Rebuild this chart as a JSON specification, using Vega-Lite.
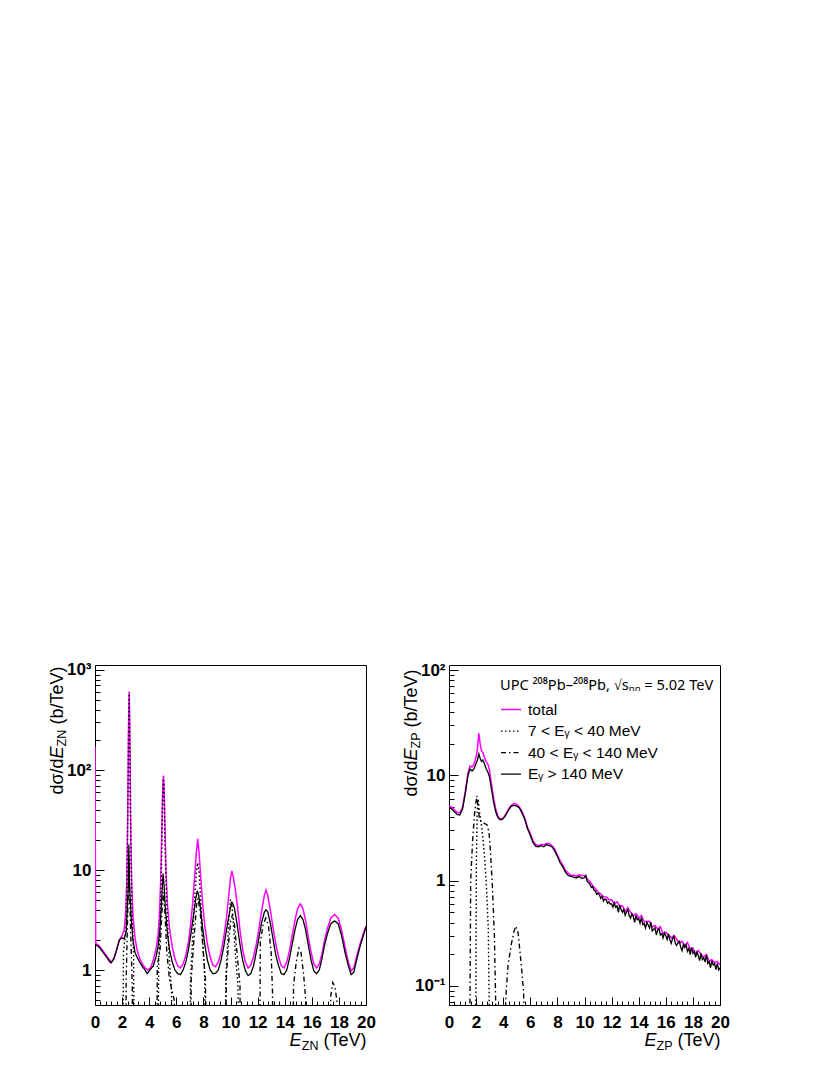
{
  "$schema": "https://vega.github.io/schema/vega-lite/v6.json",
  "background": "white",
  "padding": {"left": 47, "top": 660, "right": 5, "bottom": 5},
  "spacing": 25,
  "config": {
    "view": {"stroke": "black", "strokeWidth": 1},
    "font": "Liberation Sans",
    "axis": {
      "grid": false, "domain": false, "tickColor": "black", "tickWidth": 1,
      "labelFont": "Liberation Sans", "labelFontWeight": "bold", "labelFontSize": 17, "labelColor": "black",
      "labelFlush": false, "labelOverlap": false, "labelBound": false,
      "titleFont": "Liberation Sans", "titleFontWeight": "normal", "titleFontSize": 18, "titleColor": "black",
      "titleBaseline": "alphabetic"
    },
    "line": {"clip": true}
  },
  "resolve": {
    "scale": {"color": "independent", "strokeDash": "independent", "strokeWidth": "independent"},
    "legend": {"color": "independent", "strokeDash": "independent", "strokeWidth": "independent"}
  },
  "datasets": {
    "zn": [
      {"E":0,"v":170,"s":"t"},{"E":0.05,"v":1.85,"s":"t"},{"E":0.3,"v":1.75,"s":"t"},{"E":0.6,"v":1.55,"s":"t"},{"E":0.9,"v":1.36,"s":"t"},{"E":1.2,"v":1.2,"s":"t"},{"E":1.4,"v":1.3,"s":"t"},{"E":1.6,"v":1.6,"s":"t"},{"E":1.8,"v":2.0,"s":"t"},{"E":2.0,"v":2.2,"s":"t"},{"E":2.15,"v":2.5,"s":"t"},{"E":2.25,"v":3.5,"s":"t"},{"E":2.35,"v":8,"s":"t"},{"E":2.42,"v":40,"s":"t"},{"E":2.47,"v":250,"s":"t"},{"E":2.52,"v":610,"s":"t"},{"E":2.57,"v":250,"s":"t"},{"E":2.62,"v":40,"s":"t"},{"E":2.7,"v":8,"s":"t"},{"E":2.8,"v":3.5,"s":"t"},{"E":2.95,"v":2.1,"s":"t"},{"E":3.1,"v":1.6,"s":"t"},{"E":3.3,"v":1.3,"s":"t"},{"E":3.5,"v":1.15,"s":"t"},{"E":3.7,"v":1.05,"s":"t"},{"E":3.9,"v":1.0,"s":"t"},{"E":4.1,"v":1.05,"s":"t"},{"E":4.3,"v":1.25,"s":"t"},{"E":4.5,"v":1.6,"s":"t"},{"E":4.65,"v":2.2,"s":"t"},{"E":4.75,"v":3.5,"s":"t"},{"E":4.85,"v":8,"s":"t"},{"E":4.93,"v":25,"s":"t"},{"E":5.0,"v":65,"s":"t"},{"E":5.05,"v":88,"s":"t"},{"E":5.1,"v":65,"s":"t"},{"E":5.17,"v":25,"s":"t"},{"E":5.25,"v":9,"s":"t"},{"E":5.35,"v":4.5,"s":"t"},{"E":5.5,"v":2.6,"s":"t"},{"E":5.7,"v":1.7,"s":"t"},{"E":5.9,"v":1.3,"s":"t"},{"E":6.1,"v":1.1,"s":"t"},{"E":6.3,"v":1.05,"s":"t"},{"E":6.5,"v":1.15,"s":"t"},{"E":6.7,"v":1.4,"s":"t"},{"E":6.9,"v":1.9,"s":"t"},{"E":7.05,"v":2.8,"s":"t"},{"E":7.2,"v":4.5,"s":"t"},{"E":7.35,"v":8.5,"s":"t"},{"E":7.48,"v":15,"s":"t"},{"E":7.58,"v":20.5,"s":"t"},{"E":7.68,"v":15,"s":"t"},{"E":7.8,"v":8.5,"s":"t"},{"E":7.95,"v":4.5,"s":"t"},{"E":8.1,"v":2.8,"s":"t"},{"E":8.3,"v":1.8,"s":"t"},{"E":8.5,"v":1.35,"s":"t"},{"E":8.7,"v":1.12,"s":"t"},{"E":8.9,"v":1.08,"s":"t"},{"E":9.1,"v":1.2,"s":"t"},{"E":9.3,"v":1.5,"s":"t"},{"E":9.5,"v":2.1,"s":"t"},{"E":9.7,"v":3.3,"s":"t"},{"E":9.85,"v":5.2,"s":"t"},{"E":10.0,"v":8.3,"s":"t"},{"E":10.1,"v":9.8,"s":"t"},{"E":10.2,"v":8.6,"s":"t"},{"E":10.35,"v":6.5,"s":"t"},{"E":10.5,"v":4.5,"s":"t"},{"E":10.7,"v":2.5,"s":"t"},{"E":10.9,"v":1.6,"s":"t"},{"E":11.1,"v":1.2,"s":"t"},{"E":11.3,"v":1.05,"s":"t"},{"E":11.5,"v":1.12,"s":"t"},{"E":11.7,"v":1.35,"s":"t"},{"E":11.9,"v":1.8,"s":"t"},{"E":12.1,"v":2.6,"s":"t"},{"E":12.3,"v":3.9,"s":"t"},{"E":12.5,"v":5.6,"s":"t"},{"E":12.62,"v":6.3,"s":"t"},{"E":12.75,"v":5.6,"s":"t"},{"E":12.95,"v":3.9,"s":"t"},{"E":13.15,"v":2.6,"s":"t"},{"E":13.35,"v":1.8,"s":"t"},{"E":13.55,"v":1.35,"s":"t"},{"E":13.75,"v":1.1,"s":"t"},{"E":13.95,"v":1.05,"s":"t"},{"E":14.15,"v":1.2,"s":"t"},{"E":14.35,"v":1.55,"s":"t"},{"E":14.55,"v":2.2,"s":"t"},{"E":14.75,"v":3.1,"s":"t"},{"E":14.95,"v":4.1,"s":"t"},{"E":15.15,"v":4.6,"s":"t"},{"E":15.35,"v":4.1,"s":"t"},{"E":15.55,"v":3.1,"s":"t"},{"E":15.75,"v":2.1,"s":"t"},{"E":15.95,"v":1.5,"s":"t"},{"E":16.15,"v":1.15,"s":"t"},{"E":16.35,"v":1.05,"s":"t"},{"E":16.55,"v":1.15,"s":"t"},{"E":16.75,"v":1.45,"s":"t"},{"E":16.95,"v":2.0,"s":"t"},{"E":17.15,"v":2.6,"s":"t"},{"E":17.4,"v":3.3,"s":"t"},{"E":17.68,"v":3.6,"s":"t"},{"E":17.95,"v":3.3,"s":"t"},{"E":18.2,"v":2.5,"s":"t"},{"E":18.45,"v":1.7,"s":"t"},{"E":18.7,"v":1.2,"s":"t"},{"E":18.9,"v":0.98,"s":"t"},{"E":19.1,"v":1.05,"s":"t"},{"E":19.3,"v":1.35,"s":"t"},{"E":19.55,"v":1.8,"s":"t"},{"E":19.8,"v":2.3,"s":"t"},{"E":20.0,"v":2.75,"s":"t"},

      {"E":2.05,"v":0.05,"s":"a"},{"E":2.1,"v":1.5,"s":"a"},{"E":2.2,"v":2.0,"s":"a"},{"E":2.3,"v":3,"s":"a"},{"E":2.4,"v":20,"s":"a"},{"E":2.47,"v":200,"s":"a"},{"E":2.52,"v":580,"s":"a"},{"E":2.57,"v":200,"s":"a"},{"E":2.65,"v":15,"s":"a"},{"E":2.75,"v":3,"s":"a"},{"E":2.85,"v":1.5,"s":"a"},{"E":2.9,"v":0.05,"s":"a"},
      {"E":4.65,"v":0.05,"s":"a"},{"E":4.7,"v":1.2,"s":"a"},{"E":4.8,"v":2.5,"s":"a"},{"E":4.9,"v":10,"s":"a"},{"E":5.0,"v":60,"s":"a"},{"E":5.05,"v":82,"s":"a"},{"E":5.1,"v":60,"s":"a"},{"E":5.2,"v":12,"s":"a"},{"E":5.35,"v":3,"s":"a"},{"E":5.5,"v":1.2,"s":"a"},{"E":5.65,"v":0.6,"s":"a"},{"E":5.7,"v":0.05,"s":"a"},
      {"E":7.0,"v":0.05,"s":"a"},{"E":7.05,"v":0.8,"s":"a"},{"E":7.2,"v":2,"s":"a"},{"E":7.35,"v":5,"s":"a"},{"E":7.48,"v":9.5,"s":"a"},{"E":7.58,"v":11.8,"s":"a"},{"E":7.68,"v":9.5,"s":"a"},{"E":7.8,"v":5,"s":"a"},{"E":7.95,"v":2,"s":"a"},{"E":8.1,"v":0.8,"s":"a"},{"E":8.15,"v":0.05,"s":"a"},
      {"E":9.6,"v":0.05,"s":"a"},{"E":9.65,"v":0.8,"s":"a"},{"E":9.8,"v":2,"s":"a"},{"E":9.9,"v":3.5,"s":"a"},{"E":10.0,"v":5.1,"s":"a"},{"E":10.1,"v":4.5,"s":"a"},{"E":10.25,"v":2.5,"s":"a"},{"E":10.4,"v":1.2,"s":"a"},{"E":10.55,"v":0.7,"s":"a"},{"E":10.65,"v":0.05,"s":"a"},

      {"E":2.25,"v":0.05,"s":"b"},{"E":2.3,"v":0.8,"s":"b"},{"E":2.4,"v":3,"s":"b"},{"E":2.5,"v":12,"s":"b"},{"E":2.55,"v":6,"s":"b"},{"E":2.65,"v":2,"s":"b"},{"E":2.75,"v":0.7,"s":"b"},{"E":2.8,"v":0.05,"s":"b"},
      {"E":4.55,"v":0.05,"s":"b"},{"E":4.6,"v":1.1,"s":"b"},{"E":4.8,"v":1.6,"s":"b"},{"E":4.95,"v":4,"s":"b"},{"E":5.05,"v":6,"s":"b"},{"E":5.15,"v":4,"s":"b"},{"E":5.3,"v":1.5,"s":"b"},{"E":5.5,"v":0.8,"s":"b"},{"E":5.85,"v":0.5,"s":"b"},{"E":5.9,"v":0.05,"s":"b"},
      {"E":7.05,"v":0.05,"s":"b"},{"E":7.1,"v":0.8,"s":"b"},{"E":7.3,"v":2,"s":"b"},{"E":7.5,"v":4.5,"s":"b"},{"E":7.6,"v":5.2,"s":"b"},{"E":7.75,"v":4,"s":"b"},{"E":7.95,"v":1.8,"s":"b"},{"E":8.15,"v":0.8,"s":"b"},{"E":8.25,"v":0.05,"s":"b"},
      {"E":9.6,"v":0.05,"s":"b"},{"E":9.7,"v":0.9,"s":"b"},{"E":9.85,"v":1.8,"s":"b"},{"E":10.0,"v":3,"s":"b"},{"E":10.15,"v":3.6,"s":"b"},{"E":10.3,"v":2.8,"s":"b"},{"E":10.5,"v":1.4,"s":"b"},{"E":10.7,"v":0.7,"s":"b"},{"E":10.75,"v":0.05,"s":"b"},
      {"E":12.15,"v":0.05,"s":"b"},{"E":12.2,"v":1.9,"s":"b"},{"E":12.4,"v":2.8,"s":"b"},{"E":12.6,"v":3.3,"s":"b"},{"E":12.8,"v":2.8,"s":"b"},{"E":13.0,"v":1.5,"s":"b"},{"E":13.1,"v":0.6,"s":"b"},{"E":13.15,"v":0.05,"s":"b"},
      {"E":14.6,"v":0.05,"s":"b"},{"E":14.65,"v":0.7,"s":"b"},{"E":14.85,"v":1.2,"s":"b"},{"E":15.05,"v":1.65,"s":"b"},{"E":15.2,"v":1.5,"s":"b"},{"E":15.4,"v":0.9,"s":"b"},{"E":15.55,"v":0.5,"s":"b"},{"E":15.6,"v":0.05,"s":"b"},
      {"E":17.3,"v":0.05,"s":"b"},{"E":17.4,"v":0.55,"s":"b"},{"E":17.55,"v":0.75,"s":"b"},{"E":17.7,"v":0.68,"s":"b"},{"E":17.85,"v":0.5,"s":"b"},{"E":17.95,"v":0.05,"s":"b"},

      {"E":0,"v":1.8,"s":"c"},{"E":0.3,"v":1.7,"s":"c"},{"E":0.6,"v":1.5,"s":"c"},{"E":0.9,"v":1.32,"s":"c"},{"E":1.1,"v":1.2,"s":"c"},{"E":1.2,"v":1.18,"s":"c"},{"E":1.4,"v":1.3,"s":"c"},{"E":1.6,"v":1.6,"s":"c"},{"E":1.8,"v":2.0,"s":"c"},{"E":2.0,"v":2.1,"s":"c"},{"E":2.15,"v":2.05,"s":"c"},{"E":2.3,"v":2.4,"s":"c"},{"E":2.4,"v":4.5,"s":"c"},{"E":2.46,"v":7,"s":"c"},{"E":2.5,"v":18,"s":"c"},{"E":2.54,"v":8,"s":"c"},{"E":2.58,"v":5.8,"s":"c"},{"E":2.68,"v":3.2,"s":"c"},{"E":2.8,"v":2.0,"s":"c"},{"E":2.95,"v":1.5,"s":"c"},{"E":3.1,"v":1.35,"s":"c"},{"E":3.3,"v":1.2,"s":"c"},{"E":3.5,"v":1.08,"s":"c"},{"E":3.7,"v":1.0,"s":"c"},{"E":3.85,"v":0.92,"s":"c"},{"E":4.05,"v":1.0,"s":"c"},{"E":4.3,"v":1.1,"s":"c"},{"E":4.5,"v":1.35,"s":"c"},{"E":4.65,"v":1.7,"s":"c"},{"E":4.8,"v":2.6,"s":"c"},{"E":4.92,"v":5,"s":"c"},{"E":5.02,"v":9.2,"s":"c"},{"E":5.1,"v":7,"s":"c"},{"E":5.2,"v":4,"s":"c"},{"E":5.35,"v":2.3,"s":"c"},{"E":5.5,"v":1.6,"s":"c"},{"E":5.7,"v":1.2,"s":"c"},{"E":5.9,"v":1.0,"s":"c"},{"E":6.1,"v":0.92,"s":"c"},{"E":6.3,"v":0.9,"s":"c"},{"E":6.5,"v":1.0,"s":"c"},{"E":6.7,"v":1.2,"s":"c"},{"E":6.9,"v":1.6,"s":"c"},{"E":7.1,"v":2.4,"s":"c"},{"E":7.3,"v":3.8,"s":"c"},{"E":7.45,"v":5.3,"s":"c"},{"E":7.55,"v":6.2,"s":"c"},{"E":7.65,"v":5.6,"s":"c"},{"E":7.8,"v":4.0,"s":"c"},{"E":7.95,"v":2.6,"s":"c"},{"E":8.1,"v":1.8,"s":"c"},{"E":8.3,"v":1.25,"s":"c"},{"E":8.5,"v":1.0,"s":"c"},{"E":8.7,"v":0.92,"s":"c"},{"E":8.9,"v":0.93,"s":"c"},{"E":9.1,"v":1.0,"s":"c"},{"E":9.3,"v":1.25,"s":"c"},{"E":9.5,"v":1.7,"s":"c"},{"E":9.7,"v":2.5,"s":"c"},{"E":9.9,"v":3.6,"s":"c"},{"E":10.05,"v":4.5,"s":"c"},{"E":10.15,"v":4.7,"s":"c"},{"E":10.3,"v":4.1,"s":"c"},{"E":10.5,"v":2.8,"s":"c"},{"E":10.7,"v":1.8,"s":"c"},{"E":10.9,"v":1.25,"s":"c"},{"E":11.1,"v":0.98,"s":"c"},{"E":11.3,"v":0.88,"s":"c"},{"E":11.5,"v":0.92,"s":"c"},{"E":11.7,"v":1.1,"s":"c"},{"E":11.9,"v":1.5,"s":"c"},{"E":12.1,"v":2.1,"s":"c"},{"E":12.3,"v":3.0,"s":"c"},{"E":12.5,"v":3.8,"s":"c"},{"E":12.62,"v":4.0,"s":"c"},{"E":12.75,"v":3.8,"s":"c"},{"E":12.95,"v":2.9,"s":"c"},{"E":13.15,"v":2.0,"s":"c"},{"E":13.35,"v":1.4,"s":"c"},{"E":13.55,"v":1.1,"s":"c"},{"E":13.75,"v":0.92,"s":"c"},{"E":13.95,"v":0.9,"s":"c"},{"E":14.15,"v":1.0,"s":"c"},{"E":14.35,"v":1.3,"s":"c"},{"E":14.55,"v":1.8,"s":"c"},{"E":14.75,"v":2.5,"s":"c"},{"E":14.95,"v":3.2,"s":"c"},{"E":15.15,"v":3.5,"s":"c"},{"E":15.35,"v":3.2,"s":"c"},{"E":15.55,"v":2.5,"s":"c"},{"E":15.75,"v":1.75,"s":"c"},{"E":15.95,"v":1.25,"s":"c"},{"E":16.15,"v":0.98,"s":"c"},{"E":16.35,"v":0.92,"s":"c"},{"E":16.55,"v":1.0,"s":"c"},{"E":16.75,"v":1.3,"s":"c"},{"E":16.95,"v":1.8,"s":"c"},{"E":17.15,"v":2.3,"s":"c"},{"E":17.4,"v":2.9,"s":"c"},{"E":17.68,"v":3.1,"s":"c"},{"E":17.95,"v":2.9,"s":"c"},{"E":18.2,"v":2.2,"s":"c"},{"E":18.45,"v":1.5,"s":"c"},{"E":18.7,"v":1.1,"s":"c"},{"E":18.9,"v":0.9,"s":"c"},{"E":19.1,"v":0.95,"s":"c"},{"E":19.3,"v":1.25,"s":"c"},{"E":19.55,"v":1.7,"s":"c"},{"E":19.8,"v":2.2,"s":"c"},{"E":20.0,"v":2.7,"s":"c"}
    ],
    "zp": [
      {"E":0,"v":5.1,"s":"t"},{"E":0.2,"v":5.0,"s":"t"},{"E":0.4,"v":4.7,"s":"t"},{"E":0.6,"v":4.45,"s":"t"},{"E":0.8,"v":4.4,"s":"t"},{"E":1.0,"v":5.0,"s":"t"},{"E":1.2,"v":7.0,"s":"t"},{"E":1.4,"v":10.5,"s":"t"},{"E":1.55,"v":12.3,"s":"t"},{"E":1.7,"v":12,"s":"t"},{"E":1.85,"v":12.8,"s":"t"},{"E":2.0,"v":15,"s":"t"},{"E":2.1,"v":18,"s":"t"},{"E":2.2,"v":25,"s":"t"},{"E":2.3,"v":20,"s":"t"},{"E":2.4,"v":17,"s":"t"},{"E":2.5,"v":16.5,"s":"t"},{"E":2.6,"v":15,"s":"t"},{"E":2.75,"v":13.5,"s":"t"},{"E":2.9,"v":12.5,"s":"t"},{"E":3.0,"v":11,"s":"t"},{"E":3.15,"v":8,"s":"t"},{"E":3.3,"v":6,"s":"t"},{"E":3.45,"v":4.8,"s":"t"},{"E":3.6,"v":4.1,"s":"t"},{"E":3.75,"v":3.9,"s":"t"},{"E":3.9,"v":3.85,"s":"t"},{"E":4.05,"v":4.0,"s":"t"},{"E":4.2,"v":4.3,"s":"t"},{"E":4.4,"v":4.8,"s":"t"},{"E":4.6,"v":5.2,"s":"t"},{"E":4.8,"v":5.4,"s":"t"},{"E":5.0,"v":5.3,"s":"t"},{"E":5.2,"v":5.0,"s":"t"},{"E":5.4,"v":4.5,"s":"t"},{"E":5.6,"v":3.9,"s":"t"},{"E":5.8,"v":3.2,"s":"t"},{"E":6.0,"v":2.8,"s":"t"},{"E":6.2,"v":2.4,"s":"t"},{"E":6.4,"v":2.2,"s":"t"},{"E":6.6,"v":2.15,"s":"t"},{"E":6.8,"v":2.2,"s":"t"},{"E":7.0,"v":2.2,"s":"t"},{"E":7.2,"v":2.25,"s":"t"},{"E":7.4,"v":2.25,"s":"t"},{"E":7.6,"v":2.15,"s":"t"},{"E":7.8,"v":2.0,"s":"t"},{"E":8.0,"v":1.75,"s":"t"},{"E":8.2,"v":1.55,"s":"t"},{"E":8.4,"v":1.4,"s":"t"},{"E":8.6,"v":1.25,"s":"t"},{"E":8.8,"v":1.18,"s":"t"},{"E":9.0,"v":1.12,"s":"t"},{"E":9.2,"v":1.13,"s":"t"},{"E":9.4,"v":1.1,"s":"t"},{"E":9.6,"v":1.14,"s":"t"},{"E":9.8,"v":1.12,"s":"t"},
      {"E":10.0,"v":1.12,"s":"t"},{"E":10.2,"v":1.04,"s":"t"},{"E":10.4,"v":0.98,"s":"t"},{"E":10.6,"v":0.9,"s":"t"},{"E":10.8,"v":0.84,"s":"t"},{"E":11.0,"v":0.78,"s":"t"},{"E":11.2,"v":0.75,"s":"t"},{"E":11.4,"v":0.7,"s":"t"},{"E":11.6,"v":0.7,"s":"t"},{"E":11.8,"v":0.66,"s":"t"},{"E":12.0,"v":0.658,"s":"t"},{"E":12.2,"v":0.603,"s":"t"},{"E":12.4,"v":0.631,"s":"t"},{"E":12.6,"v":0.574,"s":"t"},{"E":12.8,"v":0.576,"s":"t"},{"E":13.0,"v":0.513,"s":"t"},{"E":13.2,"v":0.552,"s":"t"},{"E":13.4,"v":0.503,"s":"t"},{"E":13.6,"v":0.466,"s":"t"},{"E":13.8,"v":0.487,"s":"t"},{"E":14.0,"v":0.443,"s":"t"},{"E":14.2,"v":0.467,"s":"t"},{"E":14.4,"v":0.408,"s":"t"},{"E":14.6,"v":0.41,"s":"t"},{"E":14.8,"v":0.412,"s":"t"},{"E":15.0,"v":0.363,"s":"t"},{"E":15.2,"v":0.376,"s":"t"},{"E":15.4,"v":0.348,"s":"t"},{"E":15.6,"v":0.367,"s":"t"},{"E":15.8,"v":0.312,"s":"t"},{"E":16.0,"v":0.323,"s":"t"},{"E":16.2,"v":0.306,"s":"t"},{"E":16.4,"v":0.286,"s":"t"},{"E":16.6,"v":0.302,"s":"t"},{"E":16.8,"v":0.278,"s":"t"},{"E":17.0,"v":0.254,"s":"t"},{"E":17.2,"v":0.266,"s":"t"},{"E":17.4,"v":0.242,"s":"t"},{"E":17.6,"v":0.259,"s":"t"},{"E":17.8,"v":0.223,"s":"t"},{"E":18.0,"v":0.229,"s":"t"},{"E":18.2,"v":0.203,"s":"t"},{"E":18.4,"v":0.217,"s":"t"},{"E":18.6,"v":0.2,"s":"t"},{"E":18.8,"v":0.189,"s":"t"},{"E":19.0,"v":0.199,"s":"t"},{"E":19.2,"v":0.172,"s":"t"},{"E":19.4,"v":0.178,"s":"t"},{"E":19.6,"v":0.167,"s":"t"},{"E":19.8,"v":0.171,"s":"t"},{"E":20.0,"v":0.159,"s":"t"},

      {"E":1.97,"v":0.03,"s":"a"},{"E":2.02,"v":1.5,"s":"a"},{"E":2.08,"v":4.5,"s":"a"},{"E":2.15,"v":6.0,"s":"a"},{"E":2.25,"v":4.5,"s":"a"},{"E":2.39,"v":3.4,"s":"a"},{"E":2.52,"v":2.4,"s":"a"},{"E":2.64,"v":1.6,"s":"a"},{"E":2.76,"v":0.9,"s":"a"},{"E":2.9,"v":0.35,"s":"a"},{"E":3.0,"v":0.03,"s":"a"},

      {"E":1.53,"v":0.03,"s":"b"},{"E":1.6,"v":1.0,"s":"b"},{"E":1.75,"v":2.5,"s":"b"},{"E":1.9,"v":4.5,"s":"b"},{"E":2.05,"v":6.4,"s":"b"},{"E":2.15,"v":5.0,"s":"b"},{"E":2.25,"v":3.8,"s":"b"},{"E":2.4,"v":3.6,"s":"b"},{"E":2.6,"v":3.5,"s":"b"},{"E":2.8,"v":3.4,"s":"b"},{"E":2.95,"v":2.9,"s":"b"},{"E":3.05,"v":2.0,"s":"b"},{"E":3.2,"v":0.9,"s":"b"},{"E":3.35,"v":0.3,"s":"b"},{"E":3.5,"v":0.03,"s":"b"},
      {"E":4.1,"v":0.03,"s":"b"},{"E":4.2,"v":0.08,"s":"b"},{"E":4.36,"v":0.158,"s":"b"},{"E":4.6,"v":0.25,"s":"b"},{"E":4.8,"v":0.33,"s":"b"},{"E":4.93,"v":0.37,"s":"b"},{"E":5.1,"v":0.32,"s":"b"},{"E":5.35,"v":0.15,"s":"b"},{"E":5.5,"v":0.09,"s":"b"},{"E":5.6,"v":0.03,"s":"b"},

      {"E":0,"v":4.9,"s":"c"},{"E":0.2,"v":4.8,"s":"c"},{"E":0.4,"v":4.5,"s":"c"},{"E":0.6,"v":4.25,"s":"c"},{"E":0.8,"v":4.2,"s":"c"},{"E":1.0,"v":4.8,"s":"c"},{"E":1.2,"v":6.7,"s":"c"},{"E":1.4,"v":10,"s":"c"},{"E":1.55,"v":11.5,"s":"c"},{"E":1.7,"v":11,"s":"c"},{"E":1.85,"v":11.6,"s":"c"},{"E":2.0,"v":13,"s":"c"},{"E":2.1,"v":14,"s":"c"},{"E":2.2,"v":16,"s":"c"},{"E":2.3,"v":14.5,"s":"c"},{"E":2.4,"v":13.5,"s":"c"},{"E":2.5,"v":14,"s":"c"},{"E":2.6,"v":13,"s":"c"},{"E":2.75,"v":11.5,"s":"c"},{"E":2.9,"v":10.5,"s":"c"},{"E":3.0,"v":9.5,"s":"c"},{"E":3.15,"v":7.2,"s":"c"},{"E":3.3,"v":5.5,"s":"c"},{"E":3.45,"v":4.5,"s":"c"},{"E":3.6,"v":4.0,"s":"c"},{"E":3.75,"v":3.8,"s":"c"},{"E":3.9,"v":3.8,"s":"c"},{"E":4.05,"v":3.95,"s":"c"},{"E":4.2,"v":4.2,"s":"c"},{"E":4.4,"v":4.7,"s":"c"},{"E":4.6,"v":5.1,"s":"c"},{"E":4.8,"v":5.2,"s":"c"},{"E":5.0,"v":5.1,"s":"c"},{"E":5.2,"v":4.9,"s":"c"},{"E":5.4,"v":4.35,"s":"c"},{"E":5.6,"v":3.8,"s":"c"},{"E":5.8,"v":3.1,"s":"c"},{"E":6.0,"v":2.7,"s":"c"},{"E":6.2,"v":2.3,"s":"c"},{"E":6.4,"v":2.12,"s":"c"},{"E":6.6,"v":2.1,"s":"c"},{"E":6.8,"v":2.15,"s":"c"},{"E":7.0,"v":2.1,"s":"c"},{"E":7.2,"v":2.2,"s":"c"},{"E":7.4,"v":2.15,"s":"c"},{"E":7.6,"v":2.1,"s":"c"},{"E":7.8,"v":1.92,"s":"c"},{"E":8.0,"v":1.7,"s":"c"},{"E":8.2,"v":1.48,"s":"c"},{"E":8.4,"v":1.35,"s":"c"},{"E":8.6,"v":1.2,"s":"c"},{"E":8.8,"v":1.12,"s":"c"},{"E":9.0,"v":1.1,"s":"c"},{"E":9.2,"v":1.08,"s":"c"},{"E":9.4,"v":1.06,"s":"c"},{"E":9.6,"v":1.1,"s":"c"},{"E":9.8,"v":1.05,"s":"c"},
      {"E":10.0,"v":1.07,"s":"c"},{"E":10.1,"v":1.12,"s":"c"},{"E":10.2,"v":0.98,"s":"c"},{"E":10.3,"v":0.96,"s":"c"},{"E":10.4,"v":0.93,"s":"c"},{"E":10.5,"v":0.86,"s":"c"},{"E":10.6,"v":0.88,"s":"c"},{"E":10.7,"v":0.81,"s":"c"},{"E":10.8,"v":0.8,"s":"c"},{"E":10.9,"v":0.74,"s":"c"},{"E":11.0,"v":0.76,"s":"c"},{"E":11.1,"v":0.73,"s":"c"},{"E":11.2,"v":0.68,"s":"c"},{"E":11.3,"v":0.71,"s":"c"},{"E":11.4,"v":0.64,"s":"c"},{"E":11.5,"v":0.67,"s":"c"},{"E":11.6,"v":0.66,"s":"c"},{"E":11.7,"v":0.61,"s":"c"},{"E":11.8,"v":0.63,"s":"c"},{"E":11.9,"v":0.6,"s":"c"},
      {"E":12.0,"v":0.601,"s":"c"},{"E":12.1,"v":0.561,"s":"c"},{"E":12.2,"v":0.615,"s":"c"},{"E":12.3,"v":0.559,"s":"c"},{"E":12.4,"v":0.577,"s":"c"},{"E":12.5,"v":0.501,"s":"c"},{"E":12.6,"v":0.584,"s":"c"},{"E":12.7,"v":0.531,"s":"c"},{"E":12.8,"v":0.501,"s":"c"},{"E":12.9,"v":0.534,"s":"c"},{"E":13.0,"v":0.469,"s":"c"},{"E":13.1,"v":0.505,"s":"c"},{"E":13.2,"v":0.53,"s":"c"},{"E":13.3,"v":0.464,"s":"c"},{"E":13.4,"v":0.441,"s":"c"},{"E":13.5,"v":0.484,"s":"c"},{"E":13.6,"v":0.458,"s":"c"},{"E":13.7,"v":0.401,"s":"c"},{"E":13.8,"v":0.468,"s":"c"},{"E":13.9,"v":0.426,"s":"c"},{"E":14.0,"v":0.435,"s":"c"},{"E":14.1,"v":0.394,"s":"c"},{"E":14.2,"v":0.448,"s":"c"},{"E":14.3,"v":0.384,"s":"c"},{"E":14.4,"v":0.393,"s":"c"},{"E":14.5,"v":0.355,"s":"c"},{"E":14.6,"v":0.403,"s":"c"},{"E":14.7,"v":0.38,"s":"c"},{"E":14.8,"v":0.355,"s":"c"},{"E":14.9,"v":0.403,"s":"c"},{"E":15.0,"v":0.333,"s":"c"},{"E":15.1,"v":0.345,"s":"c"},{"E":15.2,"v":0.358,"s":"c"},{"E":15.3,"v":0.305,"s":"c"},{"E":15.4,"v":0.34,"s":"c"},{"E":15.5,"v":0.35,"s":"c"},{"E":15.6,"v":0.305,"s":"c"},{"E":15.7,"v":0.313,"s":"c"},{"E":15.8,"v":0.286,"s":"c"},{"E":15.9,"v":0.32,"s":"c"},{"E":16.0,"v":0.3,"s":"c"},{"E":16.1,"v":0.276,"s":"c"},{"E":16.2,"v":0.312,"s":"c"},{"E":16.3,"v":0.275,"s":"c"},{"E":16.4,"v":0.254,"s":"c"},{"E":16.5,"v":0.283,"s":"c"},{"E":16.6,"v":0.296,"s":"c"},{"E":16.7,"v":0.254,"s":"c"},{"E":16.8,"v":0.243,"s":"c"},{"E":16.9,"v":0.258,"s":"c"},{"E":17.0,"v":0.266,"s":"c"},{"E":17.1,"v":0.234,"s":"c"},{"E":17.2,"v":0.216,"s":"c"},{"E":17.3,"v":0.248,"s":"c"},{"E":17.4,"v":0.232,"s":"c"},{"E":17.5,"v":0.246,"s":"c"},{"E":17.6,"v":0.213,"s":"c"},{"E":17.7,"v":0.227,"s":"c"},{"E":17.8,"v":0.199,"s":"c"},{"E":17.9,"v":0.233,"s":"c"},{"E":18.0,"v":0.204,"s":"c"},{"E":18.1,"v":0.213,"s":"c"},{"E":18.2,"v":0.187,"s":"c"},{"E":18.3,"v":0.21,"s":"c"},{"E":18.4,"v":0.194,"s":"c"},{"E":18.5,"v":0.174,"s":"c"},{"E":18.6,"v":0.204,"s":"c"},{"E":18.7,"v":0.178,"s":"c"},{"E":18.8,"v":0.185,"s":"c"},{"E":18.9,"v":0.169,"s":"c"},{"E":19.0,"v":0.198,"s":"c"},{"E":19.1,"v":0.164,"s":"c"},{"E":19.2,"v":0.17,"s":"c"},{"E":19.3,"v":0.149,"s":"c"},{"E":19.4,"v":0.174,"s":"c"},{"E":19.5,"v":0.158,"s":"c"},{"E":19.6,"v":0.163,"s":"c"},{"E":19.7,"v":0.143,"s":"c"},{"E":19.8,"v":0.164,"s":"c"},{"E":19.9,"v":0.142,"s":"c"},{"E":20.0,"v":0.149,"s":"c"}
    ]
  },
  "hconcat": [
    {
      "width": 271,
      "height": 340,
      "data": {"name": "zn"},
      "resolve": {"axis": {"x": "independent", "y": "independent"}},
      "layer": [
        {
          "mark": {"type": "line", "clip": true},
          "encoding": {
            "x": {"field": "E", "type": "quantitative", "scale": {"domain": [0, 20], "nice": false, "zero": false},
              "axis": {"orient": "bottom", "values": [0, 2, 4, 6, 8, 10, 12, 14, 16, 18, 20], "tickSize": -8, "labelPadding": 17,
                "title": "(TeV)", "titleAlign": "right", "titleX": 271, "titleY": 40}},
            "y": {"field": "v", "type": "quantitative", "scale": {"type": "log", "domain": [0.447, 1122], "nice": false},
              "axis": {"orient": "left", "values": [1, 10, 100, 1000], "tickSize": -9, "labelPadding": 13,
                "labelExpr": "datum.value == 1000 ? '10³' : datum.value == 100 ? '10²' : datum.value == 10 ? '10' : '1'",
                "title": "dσ/d", "titleAngle": 270, "titleAlign": "left", "titleX": -33, "titleY": 129}},
            "color": {"field": "s", "type": "nominal", "scale": {"domain": ["t", "a", "b", "c"], "range": ["#ff00ff", "black", "black", "black"]}, "legend": null},
            "strokeDash": {"field": "s", "type": "nominal", "scale": {"domain": ["t", "a", "b", "c"], "range": [[1, 0], [1.5, 2.5], [5, 3, 1.5, 3], [1, 0]]}, "legend": null},
            "strokeWidth": {"field": "s", "type": "nominal", "scale": {"domain": ["t", "a", "b", "c"], "range": [1.5, 1.3, 1.3, 2]}, "legend": null}
          }
        },
        {
          "transform": [{"filter": "false"}],
          "mark": {"type": "point", "opacity": 0},
          "encoding": {
            "x": {"field": "E", "type": "quantitative", "scale": {"domain": [0, 20], "nice": false, "zero": false},
              "axis": {"orient": "bottom", "values": [0,0.4,0.8,1.2,1.6,2,2.4,2.8,3.2,3.6,4,4.4,4.8,5.2,5.6,6,6.4,6.8,7.2,7.6,8,8.4,8.8,9.2,9.6,10,10.4,10.8,11.2,11.6,12,12.4,12.8,13.2,13.6,14,14.4,14.8,15.2,15.6,16,16.4,16.8,17.2,17.6,18,18.4,18.8,19.2,19.6,20],
                "tickSize": -4, "labels": false, "title": "E", "titleFontStyle": "italic", "titleAlign": "right", "titleX": 206, "titleY": 40}},
            "y": {"field": "v", "type": "quantitative", "scale": {"type": "log", "domain": [0.447, 1122], "nice": false},
              "axis": {"orient": "left", "values": [0.5,0.6,0.7,0.8,0.9,2,3,4,5,6,7,8,9,20,30,40,50,60,70,80,90,200,300,400,500,600,700,800,900],
                "tickSize": -5, "labels": false, "title": "E", "titleFontStyle": "italic", "titleAngle": 270, "titleAlign": "left", "titleX": -33, "titleY": 93}}
          }
        },
        {
          "transform": [{"filter": "false"}],
          "mark": {"type": "point", "opacity": 0},
          "encoding": {
            "x": {"field": "E", "type": "quantitative", "scale": {"domain": [0, 20], "nice": false, "zero": false},
              "axis": {"orient": "bottom", "ticks": false, "labels": false, "title": "ZN", "titleFontSize": 12.5, "titleAlign": "right", "titleX": 223, "titleY": 44}},
            "y": {"field": "v", "type": "quantitative", "scale": {"type": "log", "domain": [0.447, 1122], "nice": false},
              "axis": {"orient": "left", "ticks": false, "labels": false, "title": "ZN", "titleFontSize": 12.5, "titleAngle": 270, "titleAlign": "left", "titleX": -29.5, "titleY": 81}}
          }
        },
        {
          "transform": [{"filter": "false"}],
          "mark": {"type": "point", "opacity": 0},
          "encoding": {
            "x": {"field": "E", "type": "quantitative", "scale": {"domain": [0, 20], "nice": false, "zero": false}, "axis": null},
            "y": {"field": "v", "type": "quantitative", "scale": {"type": "log", "domain": [0.447, 1122], "nice": false},
              "axis": {"orient": "left", "ticks": false, "labels": false, "title": "(b/TeV)", "titleAngle": 270, "titleAlign": "left", "titleX": -33, "titleY": 59}}
          }
        }
      ]
    },
    {
      "width": 271,
      "height": 340,
      "data": {"name": "zp"},
      "resolve": {"axis": {"x": "independent", "y": "independent"}},
      "layer": [
        {
          "mark": {"type": "line", "clip": true},
          "encoding": {
            "x": {"field": "E", "type": "quantitative", "scale": {"domain": [0, 20], "nice": false, "zero": false},
              "axis": {"orient": "bottom", "values": [0, 2, 4, 6, 8, 10, 12, 14, 16, 18, 20], "tickSize": -8, "labelPadding": 17,
                "title": "(TeV)", "titleAlign": "right", "titleX": 271, "titleY": 40}},
            "y": {"field": "v", "type": "quantitative", "scale": {"type": "log", "domain": [0.066, 111.6], "nice": false},
              "axis": {"orient": "left", "values": [0.1, 1, 10, 100], "tickSize": -9, "labelPadding": 13,
                "labelExpr": "datum.value == 100 ? '10²' : datum.value == 10 ? '10' : datum.value == 1 ? '1' : '10⁻¹'",
                "title": "dσ/d", "titleAngle": 270, "titleAlign": "left", "titleX": -33, "titleY": 131}},
            "color": {"field": "s", "type": "nominal", "scale": {"domain": ["t", "a", "b", "c"], "range": ["#ff00ff", "black", "black", "black"]},
              "legend": {"orient": "none", "legendX": 51, "legendY": 13, "padding": 0,
                "title": "UPC ²⁰⁸Pb–²⁰⁸Pb, √sₙₙ = 5.02 TeV", "titleFont": "Noto Sans", "titleFontSize": 14.6, "titleFontWeight": "normal", "titleColor": "black", "titlePadding": 6, "titleLimit": 400,
                "labelFont": "Liberation Sans", "labelFontSize": 15.5, "labelColor": "black", "labelOffset": 6, "labelLimit": 300,
                "symbolType": "stroke", "symbolSize": 400, "rowPadding": 1.5,
                "labelExpr": "datum.value == 't' ? 'total' : datum.value == 'a' ? '7 < Eᵧ < 40 MeV' : datum.value == 'b' ? '40 < Eᵧ < 140 MeV' : 'Eᵧ > 140 MeV'"}},
            "strokeDash": {"field": "s", "type": "nominal", "scale": {"domain": ["t", "a", "b", "c"], "range": [[1, 0], [1.5, 2.5], [5, 3, 1.5, 3], [1, 0]]}},
            "strokeWidth": {"field": "s", "type": "nominal", "scale": {"domain": ["t", "a", "b", "c"], "range": [1.5, 1.3, 1.3, 2]}}
          }
        },
        {
          "transform": [{"filter": "false"}],
          "mark": {"type": "point", "opacity": 0},
          "encoding": {
            "x": {"field": "E", "type": "quantitative", "scale": {"domain": [0, 20], "nice": false, "zero": false},
              "axis": {"orient": "bottom", "values": [0,0.4,0.8,1.2,1.6,2,2.4,2.8,3.2,3.6,4,4.4,4.8,5.2,5.6,6,6.4,6.8,7.2,7.6,8,8.4,8.8,9.2,9.6,10,10.4,10.8,11.2,11.6,12,12.4,12.8,13.2,13.6,14,14.4,14.8,15.2,15.6,16,16.4,16.8,17.2,17.6,18,18.4,18.8,19.2,19.6,20],
                "tickSize": -4, "labels": false, "title": "E", "titleFontStyle": "italic", "titleAlign": "right", "titleX": 207, "titleY": 40}},
            "y": {"field": "v", "type": "quantitative", "scale": {"type": "log", "domain": [0.066, 111.6], "nice": false},
              "axis": {"orient": "left", "values": [0.07,0.08,0.09,0.2,0.3,0.4,0.5,0.6,0.7,0.8,0.9,2,3,4,5,6,7,8,9,20,30,40,50,60,70,80,90],
                "tickSize": -5, "labels": false, "title": "E", "titleFontStyle": "italic", "titleAngle": 270, "titleAlign": "left", "titleX": -33, "titleY": 95}}
          }
        },
        {
          "transform": [{"filter": "false"}],
          "mark": {"type": "point", "opacity": 0},
          "encoding": {
            "x": {"field": "E", "type": "quantitative", "scale": {"domain": [0, 20], "nice": false, "zero": false},
              "axis": {"orient": "bottom", "ticks": false, "labels": false, "title": "ZP", "titleFontSize": 12.5, "titleAlign": "right", "titleX": 223, "titleY": 44}},
            "y": {"field": "v", "type": "quantitative", "scale": {"type": "log", "domain": [0.066, 111.6], "nice": false},
              "axis": {"orient": "left", "ticks": false, "labels": false, "title": "ZP", "titleFontSize": 12.5, "titleAngle": 270, "titleAlign": "left", "titleX": -29.5, "titleY": 83}}
          }
        },
        {
          "transform": [{"filter": "false"}],
          "mark": {"type": "point", "opacity": 0},
          "encoding": {
            "x": {"field": "E", "type": "quantitative", "scale": {"domain": [0, 20], "nice": false, "zero": false}, "axis": null},
            "y": {"field": "v", "type": "quantitative", "scale": {"type": "log", "domain": [0.066, 111.6], "nice": false},
              "axis": {"orient": "left", "ticks": false, "labels": false, "title": "(b/TeV)", "titleAngle": 270, "titleAlign": "left", "titleX": -33, "titleY": 62}}
          }
        }
      ]
    }
  ]
}
